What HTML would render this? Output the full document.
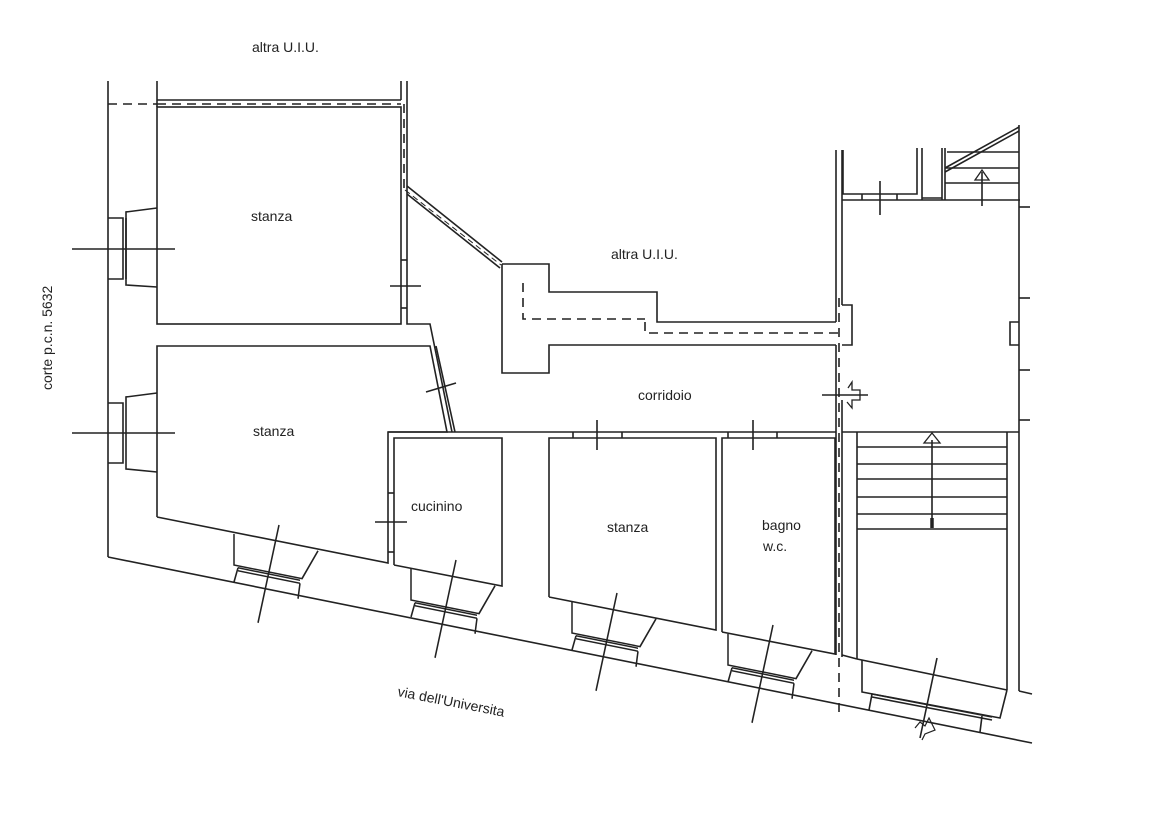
<!DOCTYPE html>
<html><head><meta charset="utf-8"><style>
html,body{margin:0;padding:0;background:#fff}
svg{display:block}
text{font-family:"Liberation Sans",sans-serif;font-size:14px;fill:#222}
</style></head><body>
<svg width="1174" height="830" viewBox="0 0 1174 830" xmlns="http://www.w3.org/2000/svg">
<defs>
<g id="win">
<polyline points="0,0 0,31 68,31 84,0" fill="none"/>
<line x1="4" y1="33" x2="66" y2="33"/><line x1="4" y1="36" x2="66" y2="36"/>
<line x1="4" y1="33" x2="0" y2="48"/><line x1="66" y1="36" x2="64" y2="52"/>
<line x1="45" y1="-18" x2="24" y2="84"/>
</g>
</defs>
<g stroke="#222" stroke-width="1.6" fill="none">
<line x1="108" y1="81" x2="108" y2="557"/>
<line x1="108" y1="557" x2="1032" y2="743"/>
<line x1="157" y1="81" x2="157" y2="107"/>
<line x1="108" y1="104" x2="157" y2="104" stroke-dasharray="9,6"/>
<line x1="157" y1="100" x2="401" y2="100"/>
<line x1="157" y1="104" x2="401" y2="104" stroke-dasharray="9,6"/>
<line x1="401" y1="81" x2="401" y2="100"/>
<line x1="407" y1="81" x2="407" y2="190"/>
<line x1="404" y1="104" x2="404" y2="190" stroke-dasharray="9,6"/>
<rect x="157" y="107" width="244" height="217"/>
<polyline points="407,190 407,324 430,324 452,432"/>
<line x1="401" y1="260" x2="407" y2="260"/><line x1="401" y1="308" x2="407" y2="308"/>
<line x1="390" y1="286" x2="421" y2="286"/>
<polyline points="157,208 126,212 126,285 157,287"/>
<polyline points="108,218 123,218 123,279 108,279"/>
<line x1="126" y1="218" x2="126" y2="279"/>
<line x1="72" y1="249" x2="175" y2="249"/>
<polyline points="157,393 126,397 126,469 157,472"/>
<polyline points="108,403 123,403 123,463 108,463"/>
<line x1="72" y1="433" x2="175" y2="433"/>
<polyline points="157,517 157,346 430,346 447,432 388,432 388,563 157,517"/>
<line x1="436" y1="346" x2="455" y2="432"/>
<line x1="426" y1="392" x2="456" y2="383"/>
<line x1="407" y1="186" x2="502" y2="262"/>
<line x1="407" y1="194" x2="500" y2="268"/>
<line x1="405" y1="190" x2="501" y2="265" stroke-dasharray="6,4" stroke-width="1"/>
<polyline points="502,264 549,264 549,292 657,292 657,322 836,322"/>
<polyline points="502,264 502,373 549,373 549,345 836,345"/>
<polyline points="523,283 523,319 645,319" stroke-dasharray="9,6"/>
<polyline points="645,322 645,333 839,333" stroke-dasharray="9,6"/>
<line x1="388" y1="432" x2="836" y2="432"/>
<line x1="573" y1="432" x2="573" y2="438"/><line x1="622" y1="432" x2="622" y2="438"/>
<line x1="597" y1="420" x2="597" y2="450"/>
<line x1="728" y1="432" x2="728" y2="438"/><line x1="777" y1="432" x2="777" y2="438"/>
<line x1="753" y1="420" x2="753" y2="450"/>
<polyline points="394,565 394,438 502,438 502,586 394,565"/>
<line x1="388" y1="493" x2="394" y2="493"/><line x1="388" y1="552" x2="394" y2="552"/>
<line x1="375" y1="522" x2="407" y2="522"/>
<polyline points="549,597 549,438 716,438 716,630 549,597"/>
<polyline points="722,632 722,438 835,438 835,654 722,632"/>
<line x1="836" y1="150" x2="836" y2="322"/>
<line x1="836" y1="345" x2="836" y2="655"/>
<line x1="842" y1="150" x2="842" y2="305"/>
<line x1="842" y1="400" x2="842" y2="657"/>
<line x1="839" y1="298" x2="839" y2="712" stroke-dasharray="9,6"/>
<polyline points="842,305 852,305 852,345 842,345"/>
<line x1="822" y1="395" x2="868" y2="395"/>
<polyline points="848,388 852,382 852,390 860,390 860,400 852,400 852,408 847,402" stroke-width="1.3"/>
<polyline points="843,150 843,194 917,194 917,148"/>
<line x1="922" y1="148" x2="922" y2="200"/>
<line x1="942" y1="148" x2="942" y2="200"/>
<line x1="945" y1="148" x2="945" y2="200"/>
<line x1="922" y1="198" x2="942" y2="198"/>
<line x1="842" y1="200" x2="1020" y2="200"/>
<line x1="880" y1="181" x2="880" y2="215"/>
<line x1="862" y1="194" x2="862" y2="200"/><line x1="897" y1="194" x2="897" y2="200"/>
<polyline points="945,168 1019,127"/><polyline points="945,172 1019,131"/>
<line x1="1019" y1="125" x2="1019" y2="432"/>
<line x1="945" y1="168" x2="1019" y2="168"/>
<line x1="945" y1="183" x2="1019" y2="183"/>
<line x1="947" y1="152" x2="1019" y2="152"/>
<line x1="982" y1="172" x2="982" y2="206"/>
<polygon points="982,170 975,180 989,180" stroke-width="1.3"/>
<line x1="1019" y1="207" x2="1030" y2="207"/><line x1="1019" y1="298" x2="1030" y2="298"/>
<polyline points="1019,322 1010,322 1010,345 1019,345"/>
<line x1="1019" y1="370" x2="1030" y2="370"/><line x1="1019" y1="420" x2="1030" y2="420"/>
<line x1="842" y1="432" x2="1019" y2="432"/>
<line x1="857" y1="432" x2="857" y2="659"/>
<line x1="1007" y1="432" x2="1007" y2="690"/>
<line x1="1019" y1="432" x2="1019" y2="691"/>
<line x1="1019" y1="691" x2="1032" y2="694"/>
<line x1="857" y1="447" x2="1007" y2="447"/>
<line x1="857" y1="464" x2="1007" y2="464"/>
<line x1="857" y1="479" x2="1007" y2="479"/>
<line x1="857" y1="497" x2="1007" y2="497"/>
<line x1="857" y1="514" x2="1007" y2="514"/>
<line x1="857" y1="529" x2="1007" y2="529"/>
<line x1="932" y1="440" x2="932" y2="527"/>
<line x1="932" y1="518" x2="932" y2="528" stroke-width="3.5"/>
<polygon points="932,433 924,443 940,443" stroke-width="1.3"/>
<line x1="842" y1="655" x2="857" y2="659"/>
<line x1="857" y1="659" x2="1007" y2="690"/>
<polyline points="862,660 862,692 1000,718 1007,690"/>
<line x1="872" y1="694" x2="992" y2="717"/><line x1="872" y1="697" x2="992" y2="720"/>
<line x1="872" y1="694" x2="869" y2="710"/><line x1="982" y1="716" x2="980" y2="732"/>
<line x1="937" y1="658" x2="920" y2="738"/>
<polyline points="915,728 920,722 925,726 929,718 935,730 925,734 922,740" stroke-width="1.2"/>
</g>
<g stroke="#222" stroke-width="1.5" fill="none">
<use href="#win" transform="translate(234,534) matrix(1,0.2,0,1,0,0)"/>
<use href="#win" transform="translate(411,569) matrix(1,0.2,0,1,0,0)"/>
<use href="#win" transform="translate(572,602) matrix(1,0.2,0,1,0,0)"/>
<use href="#win" transform="translate(728,634) matrix(1,0.2,0,1,0,0)"/>
</g>
<text x="252" y="52">altra U.I.U.</text>
<text x="611" y="259">altra U.I.U.</text>
<text x="251" y="221">stanza</text>
<text x="253" y="436">stanza</text>
<text x="607" y="532">stanza</text>
<text x="411" y="511">cucinino</text>
<text x="638" y="400">corridoio</text>
<text x="762" y="530">bagno</text>
<text x="763" y="551">w.c.</text>
<text transform="translate(52,390) rotate(-90)">corte p.c.n. 5632</text>
<text transform="translate(397,696) rotate(11)">via dell'Universita</text>
</svg>
</body></html>
